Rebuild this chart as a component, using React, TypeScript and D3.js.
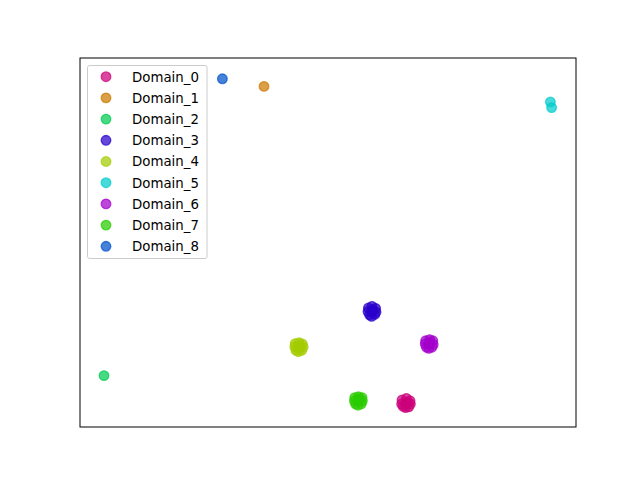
import React from "react";
import * as d3 from "d3";

const domains = ["Domain_0","Domain_1","Domain_2","Domain_3","Domain_4","Domain_5","Domain_6","Domain_7","Domain_8"];
const colors = ["#cc007a","#cc7a00","#00cc52","#2900cc","#a3cc00","#00cccc","#a300cc","#29cc00","#0052cc"];

// embedding coordinates per domain
const d0x = [9.75,9.25,10.25,9.4,10.1,9.8,9.7,10.3,9.2,9.9];
const d0y = [-20.4,-20.0,-20.1,-20.8,-20.85,-19.8,-20.95,-20.5,-20.5,-20.3];
const d1x = [-8.0];
const d1y = [19.2];
const d2x = [-28.0];
const d2y = [-16.95];
const d3x = [5.5,5.05,5.95,5.2,5.85,5.5,5.45,6.0,5.0,5.6];
const d3y = [-8.95,-8.5,-8.55,-9.35,-9.3,-8.3,-9.55,-9.0,-8.95,-8.75];
const d4x = [-3.65,-4.1,-3.2,-4.0,-3.3,-3.6,-3.7,-3.1,-4.15,-3.5];
const d4y = [-13.4,-12.95,-13.0,-13.8,-13.8,-12.85,-13.95,-13.4,-13.35,-13.2];
const d5x = [27.8,27.95];
const d5y = [17.25,16.55];
const d6x = [12.65,12.2,13.1,12.3,13.0,12.7,12.6,13.15,12.15,12.75];
const d6y = [-13.0,-12.6,-12.6,-13.4,-13.4,-12.45,-13.55,-13.05,-13.0,-12.85];
const d7x = [3.8,3.35,4.25,3.45,4.15,3.8,3.75,4.3,3.3,3.9];
const d7y = [-20.1,-19.7,-19.7,-20.5,-20.5,-19.6,-20.65,-20.1,-20.1,-19.9];
const d8x = [-13.2];
const d8y = [20.15];

const xs = [d0x,d1x,d2x,d3x,d4x,d5x,d6x,d7x,d8x];
const ys = [d0y,d1y,d2y,d3y,d4y,d5y,d6y,d7y,d8y];

const xLimits = [-31, 31];
const yLimits = [-23.375, 22.75];

function Marker({ cx, cy, color }: { cx: number; cy: number; color: string }) {
  return (
    <circle cx={cx} cy={cy} r={4.8} fill={color} fillOpacity={0.72}
      stroke={color} strokeOpacity={0.72} strokeWidth={1.3} />
  );
}

export default function App() {
  const W = 640, H = 480;
  const left = 80, right = 576, top = 58, bottom = 427;
  const x = d3.scaleLinear().domain(xLimits).range([left, right]);
  const y = d3.scaleLinear().domain(yLimits).range([bottom, top]);
  const legX = 87.5, legY = 65.5, legW = 119.5, legH = 193;
  const rowH = 21.2;
  return (
    <svg width={W} height={H} style={{ position: "absolute", left: 0, top: 0, background: "#fff" }}
      fontFamily="DejaVu Sans, sans-serif">
      <rect x={0} y={0} width={W} height={H} fill="#fff" />
      <g>
        {domains.map((d, i) =>
          xs[i].map((v, j) => (
            <Marker key={d + j} cx={x(v)} cy={y(ys[i][j])} color={colors[i]} />
          ))
        )}
      </g>
      <rect x={left} y={top} width={right - left} height={bottom - top} fill="none" stroke="#000" strokeWidth={1} />
      <g>
        <rect x={legX} y={legY} width={legW} height={legH} rx={2} fill="#fff" fillOpacity={0.8} stroke="#cccccc" strokeWidth={1} />
        {domains.map((d, i) => (
          <g key={d} transform={`translate(0, ${legY + 11.2 + i * rowH})`}>
            <Marker cx={106} cy={0} color={colors[i]} />
            <text x={132} y={0} dy="0.36em" fontSize={13.33} fill="#000">{d}</text>
          </g>
        ))}
      </g>
    </svg>
  );
}
